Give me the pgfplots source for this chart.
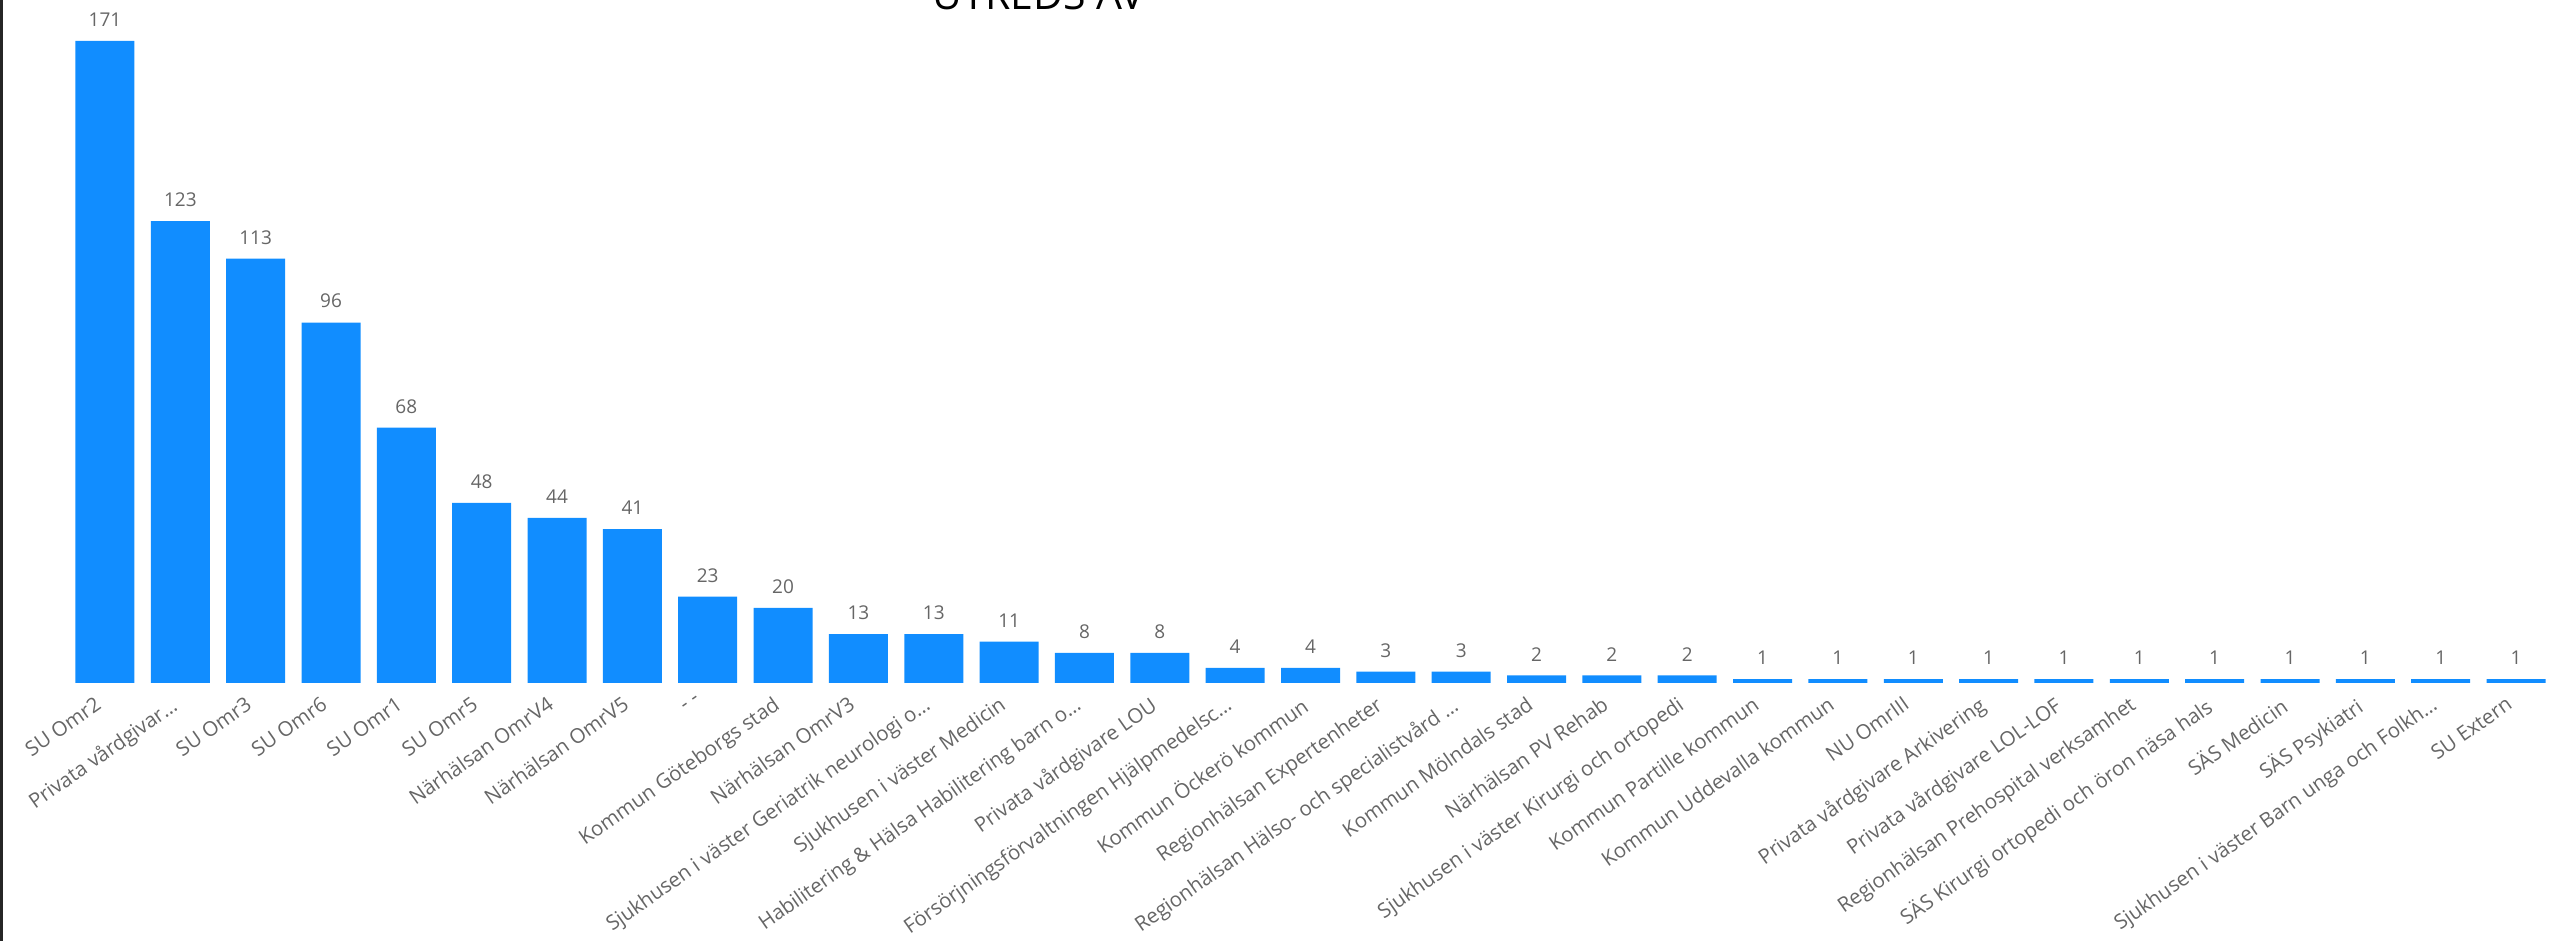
\documentclass[border=0pt]{standalone}
\usepackage{fontspec}
\setmainfont{Open Sans}
\usepackage{pgfplots}
\pgfplotsset{compat=1.18}
\definecolor{pbblue}{HTML}{118DFF}
\definecolor{lblgray}{HTML}{666666}
\begin{document}
\begin{tikzpicture}
\begin{axis}[
  at={(0,0)}, anchor=south west,
  scale only axis, width=1243.2pt, height=341.5pt,
  xmin=-0.5, xmax=32.5, ymin=0, ymax=181.9,
  clip=false,
  /pgf/number format/assume math mode=true,
  axis line style={draw=none}, major tick length=0pt,
  ytick=\empty,
  xtick={0,...,32},
  xticklabels={
    {SU Omr2},{Privata vårdgivar…},{SU Omr3},{SU Omr6},{SU Omr1},{SU Omr5},
    {Närhälsan OmrV4},{Närhälsan OmrV5},{- -},{Kommun Göteborgs stad},
    {Närhälsan OmrV3},{Sjukhusen i väster Geriatrik neurologi o…},
    {Sjukhusen i väster Medicin},{Habilitering \& Hälsa Habilitering barn o…},
    {Privata vårdgivare LOU},{Försörjningsförvaltningen Hjälpmedelsc…},
    {Kommun Öckerö kommun},{Regionhälsan Expertenheter},
    {Regionhälsan Hälso- och specialistvård …},{Kommun Mölndals stad},
    {Närhälsan PV Rehab},{Sjukhusen i väster Kirurgi och ortopedi},
    {Kommun Partille kommun},{Kommun Uddevalla kommun},{NU OmrIII},
    {Privata vårdgivare Arkivering},{Privata vårdgivare LOL-LOF},
    {Regionhälsan Prehospital verksamhet},
    {SÄS Kirurgi ortopedi och öron näsa hals},{SÄS Medicin},{SÄS Psykiatri},
    {Sjukhusen i väster Barn unga och Folkh…},{SU Extern}},
  xticklabel style={font=\fontsize{10.2}{12}\selectfont, text=lblgray,
    inner sep=0pt, xshift=-5.5pt, yshift=-6pt, rotate=35, anchor=north east},
  ybar, bar width=29.5pt,
  nodes near coords,
  every node near coord/.append style={font=\fontsize{9.5}{11}\selectfont,
    text=lblgray, inner sep=0pt, yshift=7pt},
]
\addplot[fill=pbblue, draw=none] coordinates {
  (0,171) (1,123) (2,113) (3,96) (4,68) (5,48) (6,44) (7,41) (8,23) (9,20)
  (10,13) (11,13) (12,11) (13,8) (14,8) (15,4) (16,4) (17,3) (18,3) (19,2)
  (20,2) (21,2) (22,1) (23,1) (24,1) (25,1) (26,1) (27,1) (28,1) (29,1)
  (30,1) (31,1) (32,1)};
\end{axis}
\node[anchor=base, font=\fontsize{20.5}{24}\selectfont] at (485.85pt,336.5pt) {UTREDS AV};
\draw[line width=1.3pt, black!85] (-33pt,-129pt) -- (-33pt,341.5pt);
\pgfresetboundingbox
\useasboundingbox (-33.65pt,-129pt) rectangle (1242.35pt,341.5pt);
\end{tikzpicture}
\end{document}
